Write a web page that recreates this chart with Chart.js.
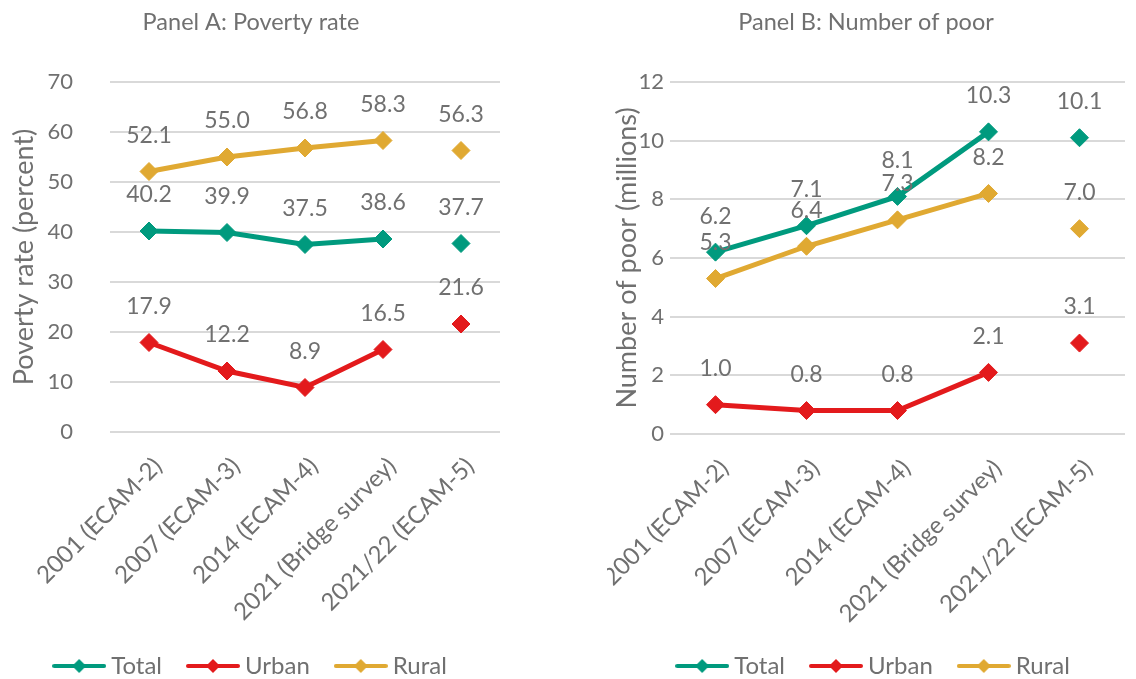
<!DOCTYPE html>
<html>
<head>
<meta charset="utf-8">
<script src="https://cdn.jsdelivr.net/npm/chart.js"></script>
<style>
  body { margin: 0; background: #fff; overflow: hidden; }
  .panel { position: absolute; top: 0; height: 679px; }
</style>
</head>
<body>
<div class="panel" style="left:0; width:510px;"><canvas id="chartA"></canvas></div>
<div class="panel" style="left:607px; width:529px;"><canvas id="chartB"></canvas></div>

<script>
  const categories = ['2001 (ECAM-2)', '2007 (ECAM-3)', '2014 (ECAM-4)', '2021 (Bridge survey)', '2021/22 (ECAM-5)'];
  const seriesNames = ['Total', 'Urban', 'Rural'];

  // Panel A: poverty rate (percent)
  const rateTotal = [40.2, 39.9, 37.5, 38.6, 37.7];
  const rateUrban = [17.9, 12.2, 8.9, 16.5, 21.6];
  const rateRural = [52.1, 55.0, 56.8, 58.3, 56.3];

  // Panel B: number of poor (millions)
  const poorTotal = [6.2, 7.1, 8.1, 10.3, 10.1];
  const poorUrban = [1.0, 0.8, 0.8, 2.1, 3.1];
  const poorRural = [5.3, 6.4, 7.3, 8.2, 7.0];

  const colors = ['#009a7e', '#e31a1c', '#e0a932'];
  const textColor = '#707070';
  const fontFamily = 'Lato, "Open Sans", sans-serif';

  function legendIcon(color) {
    const c = document.createElement('canvas');
    c.width = 54; c.height = 16;
    const g = c.getContext('2d');
    g.strokeStyle = color; g.lineWidth = 4; g.lineCap = 'round';
    g.beginPath(); g.moveTo(2, 8); g.lineTo(52, 8); g.stroke();
    g.fillStyle = color;
    g.beginPath(); g.moveTo(27, 1); g.lineTo(34, 8); g.lineTo(27, 15); g.lineTo(20, 8); g.closePath(); g.fill();
    return c;
  }
  const icons = colors.map(legendIcon);

  // value labels above each point
  const valueLabels = {
    id: 'valueLabels',
    afterDatasetsDraw(chart) {
      const ctx = chart.ctx;
      ctx.save();
      ctx.font = '23px ' + fontFamily;
      ctx.fillStyle = textColor;
      ctx.textAlign = 'center';
      ctx.textBaseline = 'middle';
      chart.data.datasets.forEach((ds, i) => {
        chart.getDatasetMeta(i).data.forEach((pt, j) => {
          ctx.fillText(ds.data[j].toFixed(1), pt.x, pt.y - 36);
        });
      });
      ctx.restore();
    }
  };

  // nudge the legend sideways after layout
  const legendShift = {
    id: 'legendShift',
    afterLayout(chart, args, opts) {
      if (chart.legend && opts.dx) {
        chart.legend.left += opts.dx;
        chart.legend.right += opts.dx;
      }
    }
  };

  function makeChart(id, title, yTitle, series, yMax, yStep, cfg) {
    const datasets = series.map((data, i) => ({
      label: seriesNames[i],
      data: data,
      borderColor: colors[i],
      backgroundColor: colors[i],
      borderWidth: 5,
      pointStyle: 'rectRot',
      pointRadius: 9,
      pointHoverRadius: 9,
      pointBorderWidth: 1,
      tension: 0,
      // last survey is not joined to the rest
      segment: { borderColor: c => c.p1DataIndex === 4 ? 'rgba(0,0,0,0)' : undefined }
    }));

    return new Chart(document.getElementById(id), {
      type: 'line',
      data: { labels: categories, datasets: datasets },
      options: {
        responsive: true,
        maintainAspectRatio: false,
        animation: false,
        layout: { padding: { top: 0, right: cfg.padRight, bottom: -9, left: 0 } },
        plugins: {
          legendShift: { dx: cfg.legendDx },
          title: {
            display: true, text: title, color: textColor,
            font: { family: fontFamily, size: 23.5, weight: 'normal' },
            padding: { top: 8, bottom: 45.8 }
          },
          legend: {
            position: 'bottom',
            labels: {
              usePointStyle: true,
              pointStyleWidth: 40,
              padding: 31,
              color: textColor,
              font: { family: fontFamily, size: 24 },
              generateLabels: chart => chart.data.datasets.map((ds, i) => ({
                text: ds.label,
                pointStyle: icons[i],
                fillStyle: colors[i],
                strokeStyle: colors[i],
                lineWidth: 0,
                fontColor: textColor,
                hidden: !chart.isDatasetVisible(i),
                datasetIndex: i
              }))
            }
          },
          tooltip: { enabled: false }
        },
        scales: {
          x: {
            offset: true,
            grid: { display: false },
            border: { display: false },
            ticks: {
              color: textColor, autoSkip: false, maxRotation: 45, minRotation: 45,
              padding: 12, labelOffset: 9,
              font: { family: fontFamily, size: 24 }
            },
            afterFit: s => { s.height = cfg.xHeight; s.paddingLeft = 0; s.paddingRight = 0; }
          },
          y: {
            min: 0, max: yMax,
            border: { display: false },
            grid: { color: '#d9d9d9', lineWidth: 2, drawTicks: false },
            ticks: {
              stepSize: yStep, color: textColor, padding: cfg.tickPad,
              font: { family: fontFamily, size: 22 }
            },
            title: {
              display: true, text: yTitle, color: textColor,
              font: { family: fontFamily, size: 27 },
              padding: { top: cfg.titlePad, bottom: 0 }
            },
            afterFit: s => { s.width = cfg.yWidth; }
          }
        }
      },
      plugins: [valueLabels, legendShift]
    });
  }

  makeChart('chartA', 'Panel A: Poverty rate', 'Poverty rate (percent)',
    [rateTotal, rateUrban, rateRural], 70, 10,
    { padRight: 8, xHeight: 191, yWidth: 110, tickPad: 37, titlePad: 8, legendDx: 2 });

  makeChart('chartB', 'Panel B: Number of poor', 'Number of poor (millions)',
    [poorTotal, poorUrban, poorRural], 12, 2,
    { padRight: 11, xHeight: 189, yWidth: 63, tickPad: 6, titlePad: 4, legendDx: 10 });
</script>
</body>
</html>
